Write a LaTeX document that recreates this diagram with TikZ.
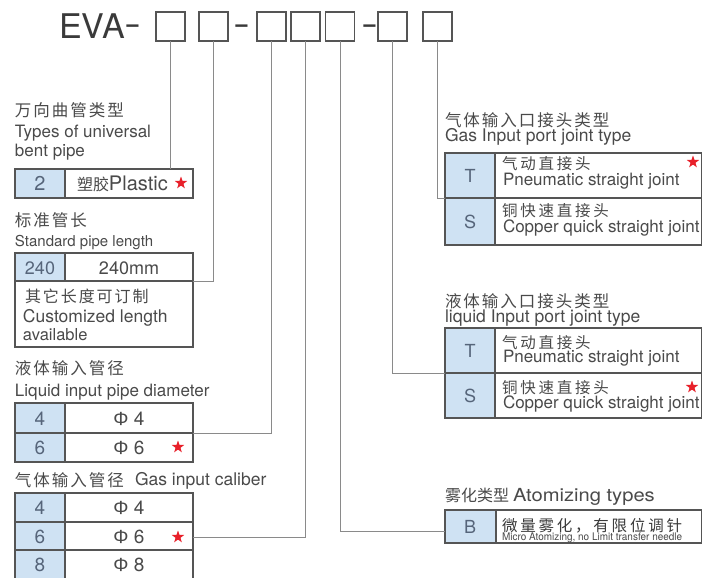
\documentclass[tikz,border=0pt]{standalone}
\usepackage{fontspec}
\setmainfont{TeX Gyre Heros}
\newfontfamily\lib{Liberation Sans}
\newfontfamily\cjk{Noto Sans CJK SC}[LetterSpace=12]
\newfontfamily\cjkw{Noto Sans CJK SC}[LetterSpace=18]
\newfontfamily\cjkn{Noto Sans CJK SC}
\usetikzlibrary{shapes.geometric}
\definecolor{txt}{HTML}{4a4a4a}
\definecolor{txtd}{HTML}{3a3a3a}
\definecolor{txtb}{HTML}{56657a}
\definecolor{bord}{HTML}{555555}
\definecolor{connc}{HTML}{8a8a8a}
\definecolor{cellblue}{HTML}{CFE2F3}
\definecolor{starred}{HTML}{E8202A}
\newcommand\myfs[1]{\fontsize{#1}{#1}\selectfont}
\newcommand\phisym{{\lib Φ}}
\tikzset{
  lbl/.style={inner sep=0pt, outer sep=0pt, anchor=base west, text=txt},
  clbl/.style={inner sep=0pt, outer sep=0pt, anchor=base, text=txt},
  cellb/.style={draw=bord, line width=1.2pt, fill=cellblue, inner sep=0pt, outer sep=0pt, anchor=north west},
  cellw/.style={draw=bord, line width=1.2pt, fill=white, inner sep=0pt, outer sep=0pt, anchor=north west},
  topbox/.style={draw=bord, line width=1.2pt, minimum width=29, minimum height=29, inner sep=0pt, outer sep=0pt},
  conn/.style={draw=connc, line width=0.9pt},
  starmark/.style={star, star points=5, star point ratio=2.5, fill=starred, draw=none, inner sep=0pt, minimum size=13},
}
\begin{document}
\begin{tikzpicture}[x=1pt,y=-1pt]
\useasboundingbox (0,0) rectangle (702,578);
\fill[white] (0,0) rectangle (702,578);

% ---------- code line ----------
\node[lbl, text=txtd] (eva) at (59,39) {\myfs{34}EVA\raisebox{3pt}{\scalebox{1.5}[1]{-}}};
\node[topbox] (b1) at (170.5,26.5) {};
\node[topbox] (b2) at (213.5,26.5) {};
\node[clbl, text=txtd] (d1) at (241.5,36) {\myfs{34}\scalebox{1.5}[1]{-}};
\node[topbox] (b3) at (271.5,26.5) {};
\node[topbox] (b4) at (305.5,26.5) {};
\node[topbox] (b5) at (340,26.5) {};
\node[clbl, text=txtd] (d2) at (369.5,36) {\myfs{34}\scalebox{1.5}[1]{-}};
\node[topbox] (b6) at (392.5,26.5) {};
\node[topbox] (b7) at (437.5,26.5) {};

% ---------- left column: tables ----------
\node[cellb, minimum width=50, minimum height=29] (r1b) at (15,169) {};
\node[cellw, minimum width=128, minimum height=29] (r1w) at (65,169) {};

\node[cellb, minimum width=50, minimum height=28] (r2b) at (15,253) {};
\node[cellw, minimum width=128, minimum height=28] (r2w) at (65,253) {};
\node[cellw, minimum width=178, minimum height=66] (r2x) at (15,281) {};

\node[cellb, minimum width=50, minimum height=30] (l1b) at (15,403) {};
\node[cellw, minimum width=128, minimum height=30] (l1w) at (65,403) {};
\node[cellb, minimum width=50, minimum height=29] (l2b) at (15,433) {};
\node[cellw, minimum width=128, minimum height=29] (l2w) at (65,433) {};

\node[cellb, minimum width=50, minimum height=29] (c1b) at (15,493) {};
\node[cellw, minimum width=128, minimum height=29] (c1w) at (65,493) {};
\node[cellb, minimum width=50, minimum height=28] (c2b) at (15,522) {};
\node[cellw, minimum width=128, minimum height=28] (c2w) at (65,522) {};
\node[cellb, minimum width=50, minimum height=29] (c3b) at (15,550) {};
\node[cellw, minimum width=128, minimum height=29] (c3w) at (65,550) {};

% ---------- right column: tables ----------
\node[cellb, minimum width=50, minimum height=45] (gTb) at (445,153) {};
\node[cellw, minimum width=207, minimum height=45] (gTw) at (495,153) {};
\node[cellb, minimum width=50, minimum height=47] (gSb) at (445,198) {};
\node[cellw, minimum width=207, minimum height=47] (gSw) at (495,198) {};

\node[cellb, minimum width=50, minimum height=45] (pTb) at (445,328) {};
\node[cellw, minimum width=207, minimum height=45] (pTw) at (495,328) {};
\node[cellb, minimum width=50, minimum height=45] (pSb) at (445,373) {};
\node[cellw, minimum width=207, minimum height=45] (pSw) at (495,373) {};

\node[cellb, minimum width=51, minimum height=33] (aBb) at (445,510) {};
\node[cellw, minimum width=206, minimum height=33] (aBw) at (496,510) {};

% ---------- connectors ----------
\draw[conn] (b1.south) -- (b1.south |- r1w.north);
\draw[conn] (b2.south) |- (r2w.south east);
\draw[conn] (b3.south) |- (l1w.south east);
\draw[conn] ([yshift=-0.5pt]b4.south) |- ([yshift=-1pt]c2w.east);
\draw[conn] (b5.south) |- ([yshift=-4.5pt]aBb.west);
\draw[conn] (b6.south) |- (pTb.south west);
\draw[conn] (b7.south) |- (gTb.south west);

% ---------- left column: texts ----------
\node[lbl] (h1zh) at (15,117) {\cjk\myfs{16.5}万向曲管类型};
\node[lbl] (h1en) at (15,137) {\myfs{17}Types of universal};
\node[lbl] (h1en2) at (15,157) {\myfs{17}bent pipe};
\node[clbl, text=txtb] (r1bt) at (40,190) {\myfs{20}2};
\node[lbl] (r1wt) at (77,190) {{\cjkn\myfs{16}塑胶}\myfs{20}Plastic};
\node[starmark] (s1) at (181,183) {};

\node[lbl] (h2zh) at (15,226) {\cjk\myfs{16.5}标准管长};
\node[lbl] (h2en) at (15,246) {\myfs{15}Standard pipe length};
\node[clbl, text=txtb] (r2bt) at (40,274) {\myfs{18}240};
\node[clbl] (r2wt) at (129,274) {\myfs{18}240mm};
\node[lbl] (r2x1) at (25,302) {\cjk\myfs{16}其它长度可订制};
\node[lbl] (r2x2) at (23,322) {\myfs{17.5}Customized length};
\node[lbl] (r2x3) at (23,340) {\myfs{16.5}available};

\node[lbl] (h3zh) at (15,374) {\cjk\myfs{16.5}液体输入管径};
\node[lbl] (h3en) at (15,396) {\myfs{17}Liquid input pipe diameter};
\node[clbl, text=txtb] (l1bt) at (40,425) {\myfs{19}4};
\node[clbl] (l1wt) at (129,425) {\myfs{19}\phisym\ 4};
\node[clbl, text=txtb] (l2bt) at (40,454) {\myfs{19}6};
\node[clbl] (l2wt) at (129,454) {\myfs{19}\phisym\ 6};
\node[starmark] (s2) at (178,447) {};

\node[lbl] (h4zh) at (15,486) {\cjk\myfs{16.5}气体输入管径};
\node[lbl] (h4en) at (135,485) {\myfs{17.5}Gas input caliber};
\node[clbl, text=txtb] (c1bt) at (40,514) {\myfs{19}4};
\node[clbl] (c1wt) at (129,514) {\myfs{19}\phisym\ 4};
\node[clbl, text=txtb] (c2bt) at (40,543) {\myfs{19}6};
\node[clbl] (c2wt) at (129,543) {\myfs{19}\phisym\ 6};
\node[starmark] (s3) at (178,537) {};
\node[clbl, text=txtb] (c3bt) at (40,571) {\myfs{19}8};
\node[clbl] (c3wt) at (129,571) {\myfs{19}\phisym\ 8};

% ---------- right column: texts ----------
\node[lbl] (h5zh) at (445,127) {\cjk\myfs{16.5}气体输入口接头类型};
\node[lbl] (h5en) at (445,142) {\myfs{17.5}Gas Input port joint type};
\node[clbl, text=txtb] (gTbt) at (470,182) {\myfs{18}T};
\node[lbl] (gTzh) at (502,169) {\cjkw\myfs{15.5}气动直接头};
\node[lbl] (gTen) at (503,185) {\myfs{17}Pneumatic straight joint};
\node[starmark] (s4) at (693,162) {};
\node[clbl, text=txtb] (gSbt) at (470,228) {\myfs{18}S};
\node[lbl] (gSzh) at (502,216) {\cjkw\myfs{15.5}铜快速直接头};
\node[lbl] (gSen) at (503,232) {\myfs{17}Copper quick straight joint};

\node[lbl] (h6zh) at (445,307) {\cjk\myfs{16.5}液体输入口接头类型};
\node[lbl] (h6en) at (445,322) {\myfs{17.5}liquid Input port joint type};
\node[clbl, text=txtb] (pTbt) at (470,357) {\myfs{18}T};
\node[lbl] (pTzh) at (502,348) {\cjkw\myfs{15.5}气动直接头};
\node[lbl] (pTen) at (503,362) {\myfs{17}Pneumatic straight joint};
\node[clbl, text=txtb] (pSbt) at (470,402) {\myfs{18}S};
\node[lbl] (pSzh) at (502,393) {\cjkw\myfs{15.5}铜快速直接头};
\node[lbl] (pSen) at (503,408) {\myfs{17}Copper quick straight joint};
\node[starmark] (s5) at (692,387) {};

\node[lbl] (h7zh) at (445,501) {\cjkn\myfs{16}雾化类型};
\node[lbl, xscale=1.12, transform shape] (h7en) at (513,501) {\myfs{18}Atomizing types};
\node[clbl, text=txtb] (aBbt) at (470,533) {\myfs{18}B};
\node[lbl, text=txtd] (aBzh) at (502,531) {\cjkw\myfs{15.5}微量雾化，有限位调针};
\node[lbl, xscale=0.95, transform shape] (aBen) at (502,540) {\myfs{10.5}Micro Atomizing, no Limit transfer needle};
\end{tikzpicture}
\end{document}
